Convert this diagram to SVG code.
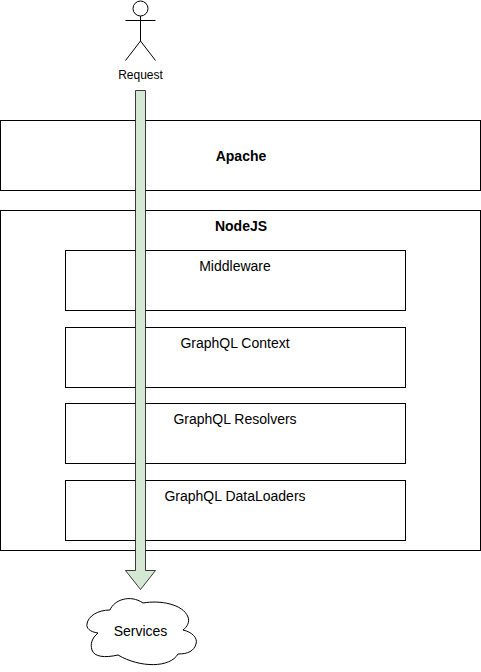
<svg xmlns="http://www.w3.org/2000/svg" width="481" height="672" viewBox="0 0 481 672">
<style>
.b{fill:#fff;stroke:#000;stroke-width:1}
.l{fill:none;stroke:#000;stroke-width:1}
text{font-family:"Liberation Sans",Arial,Helvetica,sans-serif;fill:#000;text-anchor:middle}
.m{font-size:14px}
.s{font-size:12px}
.h{font-size:14px;font-weight:bold}
</style>
<rect width="481" height="672" fill="#fff"/>
<g id="apache"><rect class="b" x="0.5" y="120.500" width="480" height="70"/><text class="h" x="241" y="161">Apache</text></g>
<g id="nodejs"><rect class="b" x="0.5" y="210.500" width="480" height="340"/><text class="h" x="241" y="231">NodeJS</text></g>
<g id="middleware"><rect class="b" x="65.500" y="250.500" width="340" height="60"/><text class="m" x="235" y="271">Middleware</text></g>
<g id="context"><rect class="b" x="65.500" y="327.500" width="340" height="60"/><text class="m" x="235" y="348">GraphQL Context</text></g>
<g id="resolvers"><rect class="b" x="65.500" y="403.500" width="340" height="60"/><text class="m" x="235" y="424">GraphQL Resolvers</text></g>
<g id="dataloaders"><rect class="b" x="65.500" y="480.500" width="340" height="60"/><text class="m" x="235" y="501">GraphQL DataLoaders</text></g>
<g id="request">
<circle class="b" cx="140.500" cy="8.500" r="7.500"/>
<path class="l" d="M140.500 16V41M125.500 20.500H155.500M140.500 41L125.500 60.500M140.500 41L155.500 60.500"/>
<text class="s" x="140.500" y="79">Request</text>
</g>
<g id="services">
<path class="b" d="M110 610C114 600 130 594 143 603C160 600 183 604 188 617C190 622 187 627 183 630C192 632 198 638 196 644C194 651 188 654 178 654C170 668 140 668 118 655C105 658 94 657 92 650C90 644 92 638 98 633C90 632 86 628 87 624C88 616 98 610 110 610Z"/>
<text class="m" x="140.500" y="636">Services</text>
</g>
<g id="connectors">
<path d="M135.500 90.500H145.500V570.500H155.500L140.500 589.500L125.500 570.500H135.500Z" fill="#d5e8d4" stroke="#000" stroke-opacity=".75"/>
</g>
</svg>
